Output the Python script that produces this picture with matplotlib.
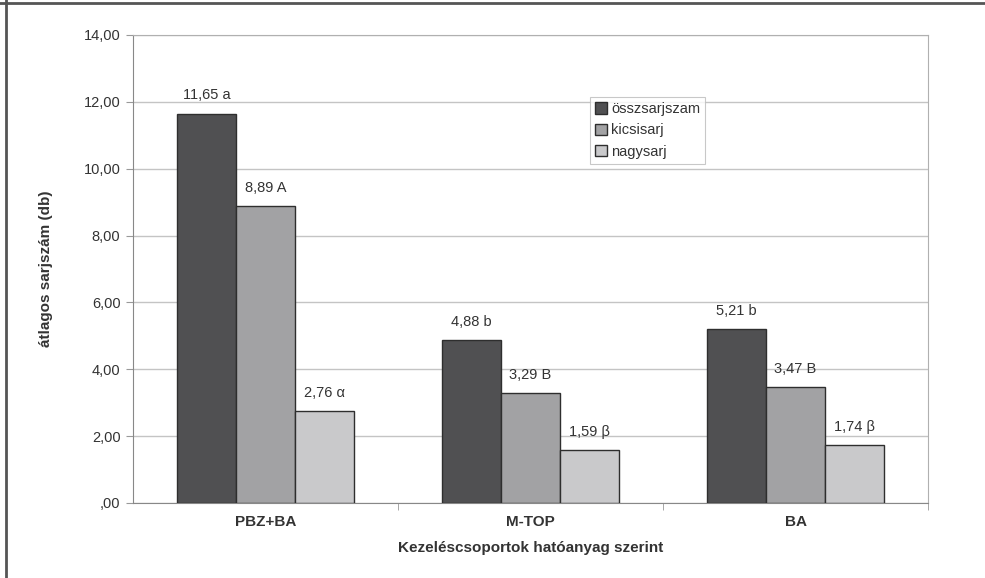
import matplotlib
matplotlib.use("Agg")
import matplotlib.pyplot as plt
from matplotlib.lines import Line2D
import numpy as np

categories = ["PBZ+BA", "M-TOP", "BA"]
series_names = ["összsarjszam", "kicsisarj", "nagysarj"]
osszsarjszam = [11.65, 4.88, 5.21]
kicsisarj = [8.89, 3.29, 3.47]
nagysarj = [2.76, 1.59, 1.74]
letters_ossz = ["a", "b", "b"]
letters_kicsi = ["A", "B", "B"]
letters_nagy = ["α", "β", "β"]
yticks = [0, 2, 4, 6, 8, 10, 12, 14]

plt.rcParams['font.family'] = ['Liberation Sans', 'DejaVu Sans']

fig = plt.figure(figsize=(9.85, 5.78), dpi=100)
ax = fig.add_axes([133/985, 1 - 503/578, (928-133)/985, (503-35)/578])

colors = ["#505052", "#a2a2a4", "#c9c9cb"]
data = [osszsarjszam, kicsisarj, nagysarj]
letters = [letters_ossz, letters_kicsi, letters_nagy]
x = np.arange(len(categories))
w = 1 / 4.5
for i, (vals, col, lets, name) in enumerate(zip(data, colors, letters, series_names)):
    pos = x + (i - 1) * w
    ax.bar(pos, vals, width=w, color=col, edgecolor="#2e2e2e", linewidth=1.0,
           label=name, zorder=3)
    for xp, v, l in zip(pos, vals, lets):
        txt = f"{v:.2f}".replace(".", ",") + " " + l
        ax.annotate(txt, (xp, v), xytext=(0, 8), textcoords="offset points",
                    ha="center", va="bottom", fontsize=10.5, color="#333333")

ax.set_xlim(-0.5, 2.5)
ax.set_ylim(0, 14)
ax.set_yticks(yticks)
ax.set_yticklabels([(f"{t:.2f}".replace(".", ",") if t != 0 else ",00") for t in yticks],
                   fontsize=10.5, color="#333333")
ax.yaxis.grid(True, color="#c4c4c4", linewidth=1.0, zorder=0)
ax.set_axisbelow(True)

ax.set_xticks(x)
ax.set_xticklabels(categories, fontsize=11, fontweight="bold", color="#333333")
ax.tick_params(axis="x", length=0, pad=9)
ax.set_xticks([0.5, 1.5, 2.5], minor=True)
ax.tick_params(axis="x", which="minor", length=5, color="#999999")
ax.tick_params(axis="y", length=5, color="#999999", pad=4)

for s in ["top", "right"]:
    ax.spines[s].set_color("#b0b0b0")
ax.spines["left"].set_color("#888888")
ax.spines["bottom"].set_color("#888888")

ax.set_ylabel("átlagos sarjszám (db)", fontsize=11, fontweight="bold", color="#333333", labelpad=22)
ax.set_xlabel("Kezeléscsoportok hatóanyag szerint", fontsize=11, fontweight="bold",
              color="#333333", labelpad=8)

leg = ax.legend(loc="upper left", bbox_to_anchor=((590-133)/795, (503-97)/468),
                fontsize=10.5, frameon=True, fancybox=False, edgecolor="#bbbbbb",
                handlelength=0.8, handleheight=0.8, handletextpad=0.3,
                labelspacing=0.5, borderpad=0.35, borderaxespad=0)
leg.get_frame().set_linewidth(0.8)
for t in leg.get_texts():
    t.set_color("#333333")

# figure border (top & left)
fig.add_artist(Line2D([0, 1], [1 - 2.5/578, 1 - 2.5/578], transform=fig.transFigure,
                      color="#555555", linewidth=2))
fig.add_artist(Line2D([5.5/985, 5.5/985], [0, 1], transform=fig.transFigure,
                      color="#555555", linewidth=2))

fig.savefig("out.png", dpi=100)
